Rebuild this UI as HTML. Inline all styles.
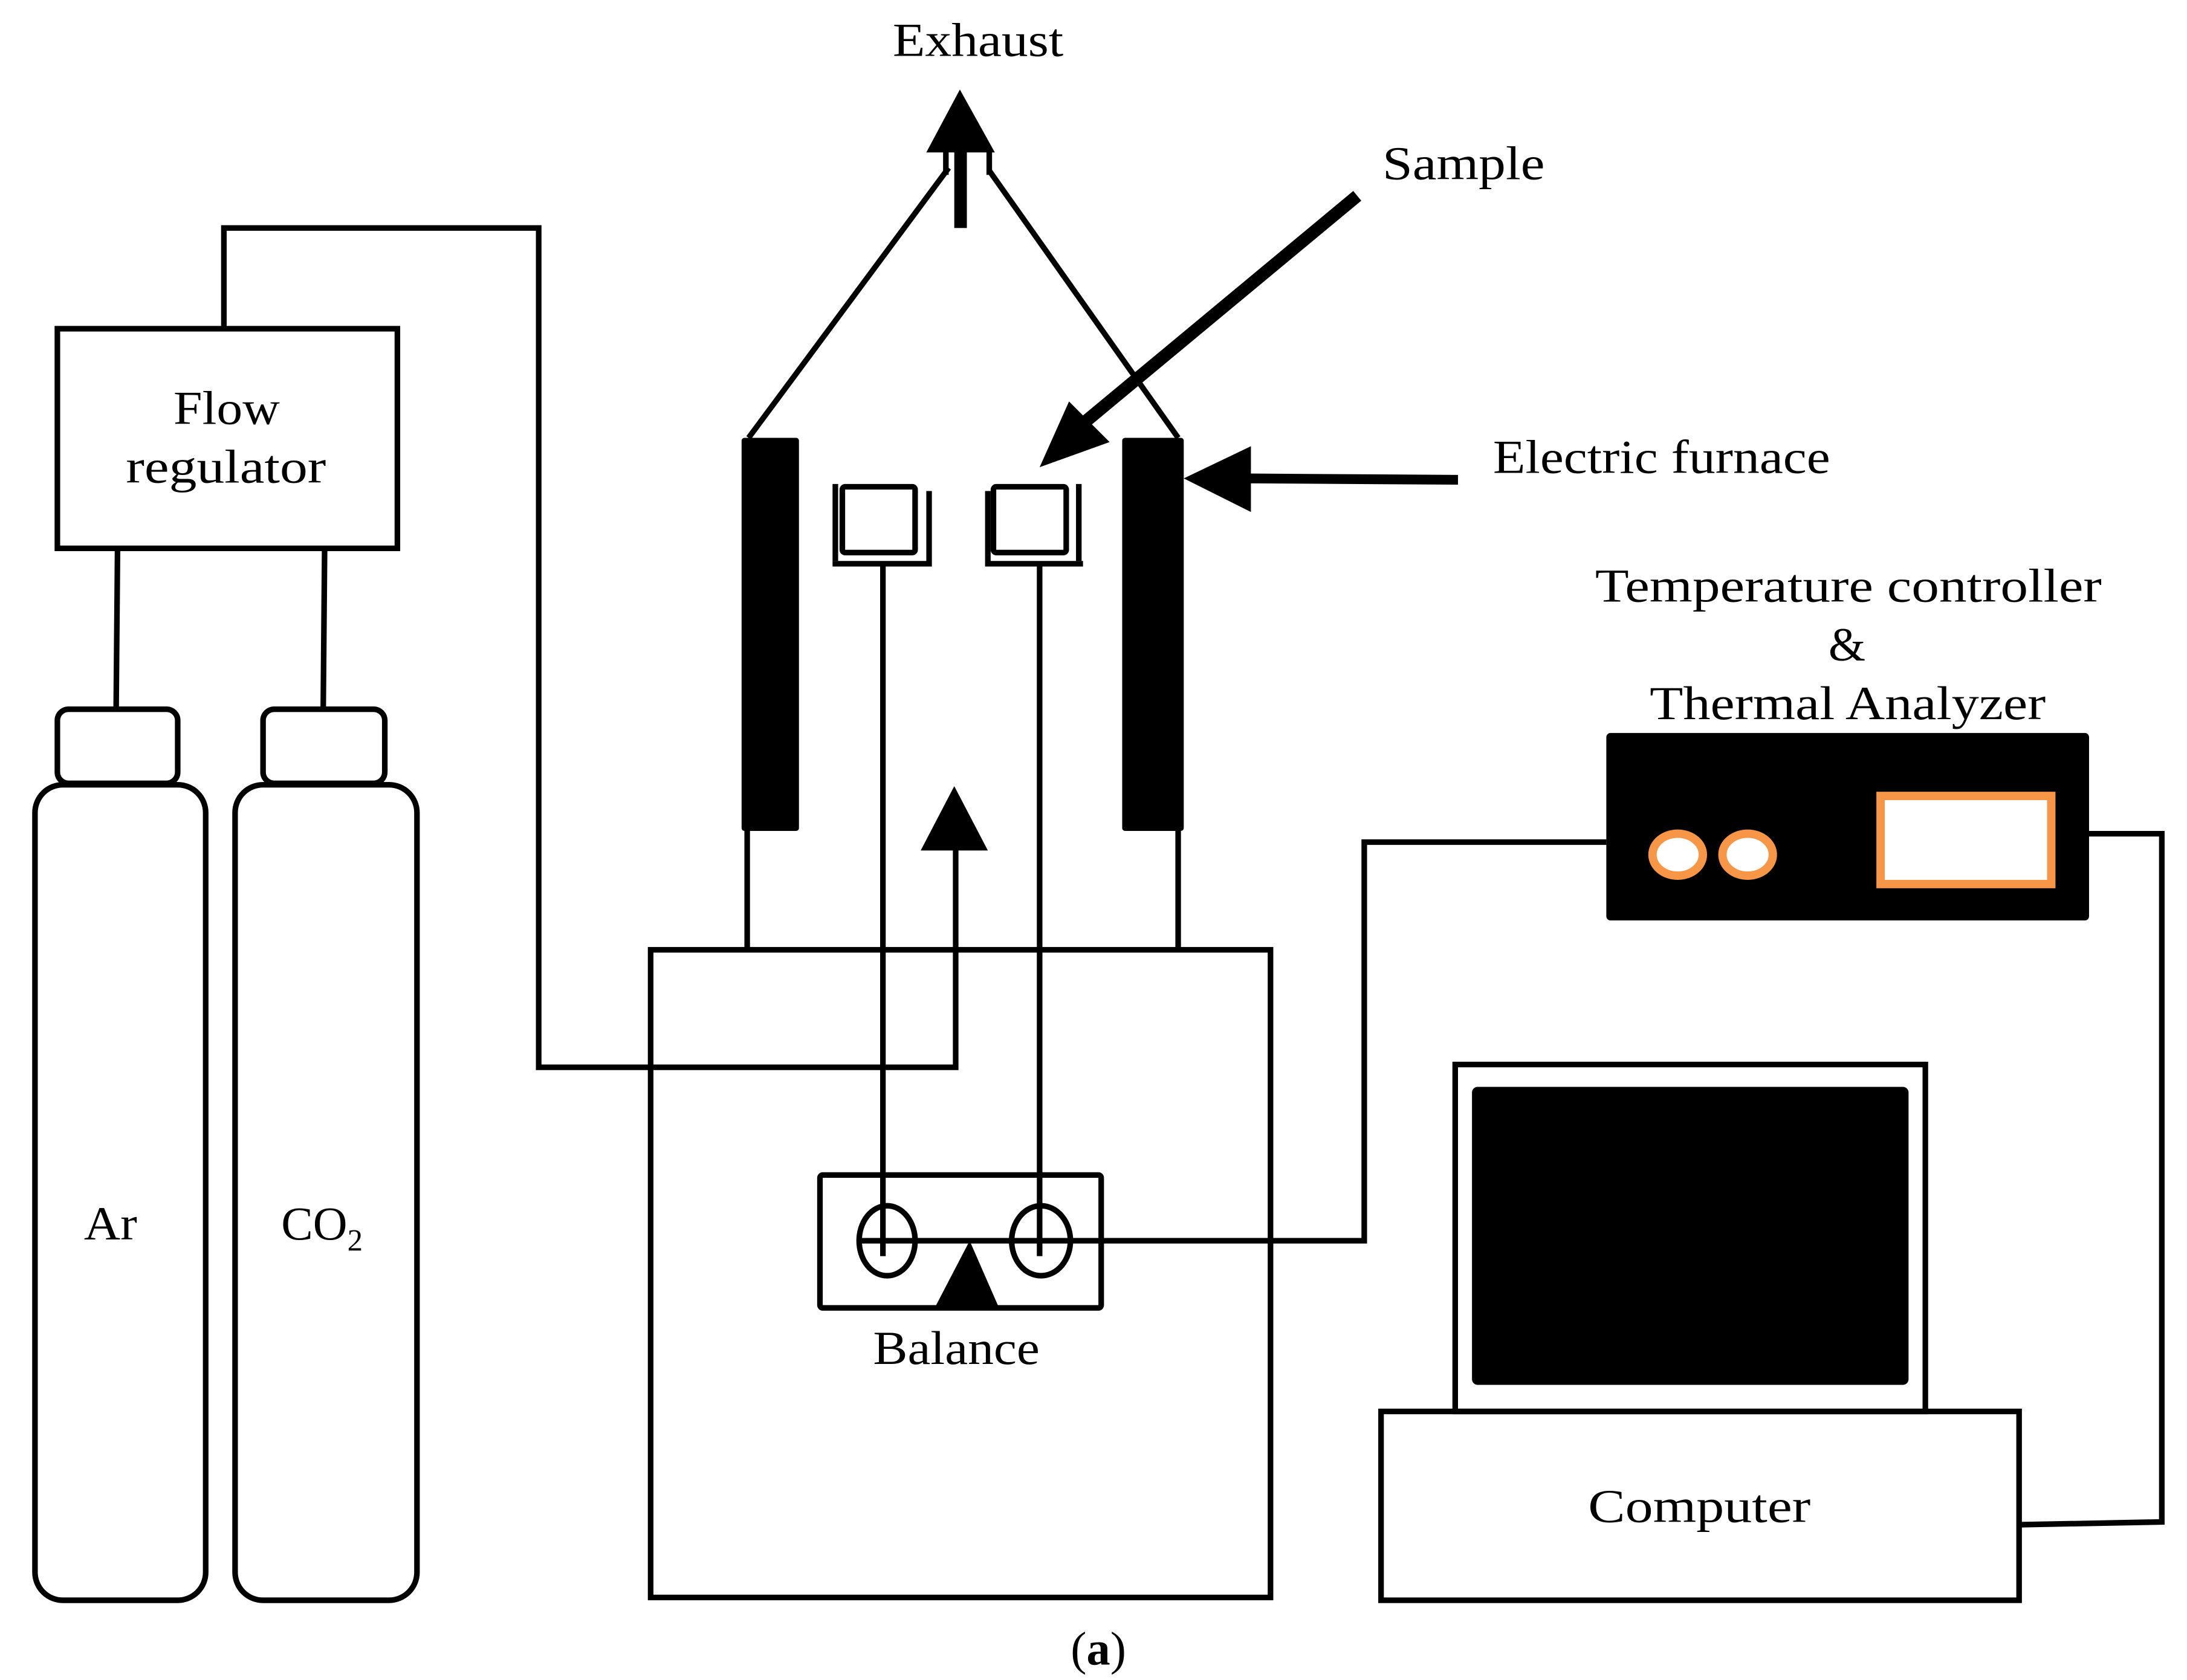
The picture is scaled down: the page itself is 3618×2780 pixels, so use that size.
<!DOCTYPE html>
<html><head><meta charset="utf-8"><style>html,body{margin:0;padding:0;background:#fff}svg{display:block}</style></head>
<body>
<svg width="3618" height="2780" viewBox="0 0 1563 1201" preserveAspectRatio="none" xmlns="http://www.w3.org/2000/svg" font-family="'Liberation Serif',serif" font-size="34">
<g fill="none" stroke="#000" stroke-width="4">
<rect x="41" y="235" width="243" height="157"/>
<polyline points="160,235 160,163 385,163 385,763 683,763 683,604"/>
<line x1="84" y1="392" x2="83" y2="507"/>
<line x1="232" y1="392" x2="231" y2="507"/>
<rect x="41" y="507" width="86" height="53" rx="8"/>
<rect x="188" y="507" width="87" height="53" rx="8"/>
<rect x="25" y="561" width="122" height="583" rx="20"/>
<rect x="168" y="561" width="130" height="583" rx="20"/>
<rect x="465" y="679" width="443" height="463"/>
<line x1="534" y1="594" x2="534" y2="679"/>
<line x1="842" y1="594" x2="842" y2="679"/>
<line x1="535" y1="313" x2="678" y2="120"/>
<line x1="842" y1="313" x2="707" y2="122"/>
<line x1="676" y1="108" x2="676" y2="125"/>
<line x1="707" y1="108" x2="707" y2="125"/>
<rect x="602" y="348" width="52" height="47" rx="2"/>
<rect x="710" y="348" width="52" height="47" rx="2"/>
<polyline points="597,346 597,401"/><polyline points="664,351 664,403 595,403"/>
<polyline points="706,351 706,403 774,403"/><polyline points="771,346 771,401"/>
<line x1="631" y1="403" x2="631" y2="898"/>
<line x1="743" y1="403" x2="743" y2="898"/>
<rect x="586" y="840" width="201" height="95" rx="2"/>
<ellipse cx="634" cy="887" rx="20" ry="25"/>
<ellipse cx="744" cy="887" rx="21" ry="25"/>
<polyline points="614,887 975,887 975,602 1148,602"/>
<polyline points="1493,596 1545,596 1545,1088 1443,1090"/>
<rect x="1040" y="761" width="336" height="248"/>
<rect x="987" y="1009" width="456" height="135"/>
</g>
<polygon points="658,608 706,608 682,562" fill="#000"/>
<rect x="530" y="313" width="41" height="281" rx="2" fill="#000"/>
<rect x="802" y="313" width="44" height="281" rx="2" fill="#000"/>
<polygon points="662,109 711,109 686,64" fill="#000"/>
<rect x="682" y="108" width="9" height="55" fill="#000"/>
<polygon points="668,935 714,935 693,887" fill="#000"/>
<line x1="970" y1="140" x2="775" y2="302" stroke="#000" stroke-width="9"/>
<polygon points="743,334 764,287 793,316" fill="#000"/>
<line x1="1042" y1="343" x2="890" y2="342" stroke="#000" stroke-width="7"/>
<polygon points="846,342 894,319 894,366" fill="#000"/>
<rect x="1148" y="524" width="345" height="134" rx="3" fill="#000"/>
<g fill="#fff" stroke="#f79646" stroke-width="6">
<ellipse cx="1199" cy="611" rx="18" ry="15"/>
<ellipse cx="1249" cy="611" rx="18" ry="15"/>
<rect x="1344" y="569" width="122" height="63"/>
</g>
<rect x="1052" y="777" width="312" height="213" rx="4" fill="#000"/>
<g fill="#000" lengthAdjust="spacingAndGlyphs">
<text x="124" y="303" textLength="76" lengthAdjust="spacingAndGlyphs">Flow</text>
<text x="90" y="345" textLength="143" lengthAdjust="spacingAndGlyphs">regulator</text>
<text x="60" y="886" textLength="38" lengthAdjust="spacingAndGlyphs">Ar</text>
<text x="201" y="886">CO<tspan font-size="22" dy="8">2</tspan></text>
<text x="638" y="40" textLength="122" lengthAdjust="spacingAndGlyphs">Exhaust</text>
<text x="624" y="975" textLength="119" lengthAdjust="spacingAndGlyphs">Balance</text>
<text x="1140" y="430" textLength="362" lengthAdjust="spacingAndGlyphs">Temperature controller</text>
<text x="1320" y="472" text-anchor="middle">&amp;</text>
<text x="1179" y="514" textLength="283" lengthAdjust="spacingAndGlyphs">Thermal Analyzer</text>
<text x="1135" y="1088" textLength="159" lengthAdjust="spacingAndGlyphs">Computer</text>
<text x="785" y="1190" text-anchor="middle">(<tspan font-weight="bold">a</tspan>)</text>
<text x="988" y="128" textLength="116" lengthAdjust="spacingAndGlyphs">Sample</text>
<text x="1067" y="338" textLength="241" lengthAdjust="spacingAndGlyphs">Electric furnace</text>
</g>
</svg>
</body></html>
